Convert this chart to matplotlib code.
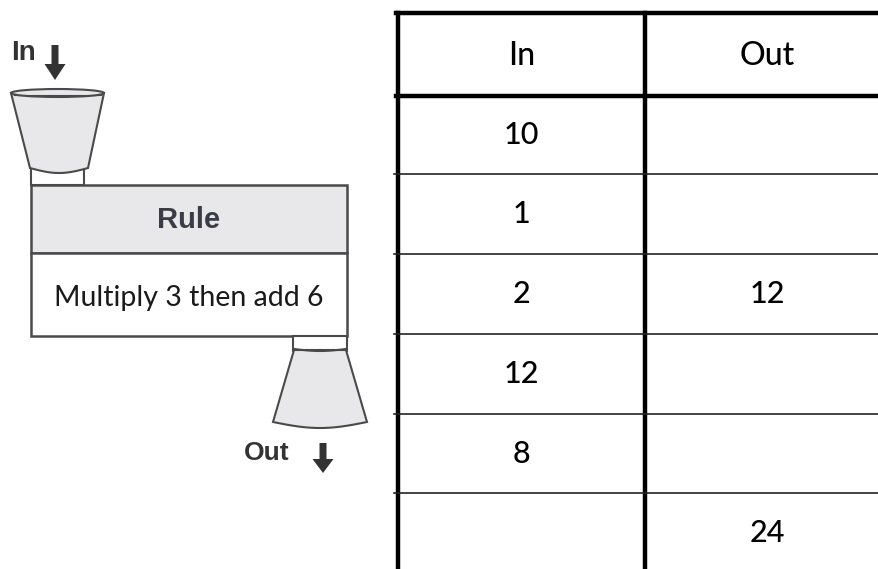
import matplotlib.pyplot as plt
from matplotlib.patches import Polygon, Rectangle, Ellipse, FancyArrow
import numpy as np

# table content
headers = ["In", "Out"]
in_values = ["10", "1", "2", "12", "8", ""]
out_values = ["", "", "12", "", "", "24"]
rule_title = "Rule"
rule_text = "Multiply 3 then add 6"

fig = plt.figure(figsize=(8.79, 5.69), dpi=100)
ax = fig.add_axes([0, 0, 1, 1])
ax.set_xlim(0, 879)
ax.set_ylim(569, 0)
ax.axis("off")

edge = "#4a4a4a"
fill = "#e8e8ea"
tfont = "Lato"

# ---- machine on the left ----
# top funnel
ax.add_patch(Rectangle((31, 168), 53, 17, facecolor="white", edgecolor=edge, lw=1.5))
xs = np.linspace(30, 88, 30)
sag = 168 + 5 * np.sin(np.pi * (xs - 30) / 58)
cone = [(11, 93)] + list(zip(xs, sag)) + [(104, 93)]
ax.add_patch(Polygon(cone[::-1], closed=True, facecolor=fill, edgecolor=edge, lw=1.5))
ax.add_patch(Ellipse((57.5, 93), 93, 8, facecolor=fill, edgecolor=edge, lw=1.5))
ax.plot([14, 101], [95, 95], color=edge, lw=0.8)
ax.text(11, 53, "In", fontsize=20, fontweight="bold", family="Liberation Sans",
        color="#333333", ha="left", va="center")
ax.add_patch(FancyArrow(55, 45, 0, 19, width=7, head_width=21, head_length=16,
                        length_includes_head=False, color="#333333", lw=0))

# rule box
ax.add_patch(Rectangle((31, 185), 316, 68, facecolor=fill, edgecolor=edge, lw=1.8))
ax.add_patch(Rectangle((31, 253), 316, 83, facecolor="white", edgecolor=edge, lw=1.8))
ax.text(189, 220, rule_title, fontsize=21, fontweight="bold", family="Liberation Sans",
        color="#3a3d45", ha="center", va="center")
ax.text(189, 298, rule_text, fontsize=20.5, family=tfont, color="#1a1a1a",
        ha="center", va="center")

# bottom funnel
ax.add_patch(Rectangle((293, 336), 54, 15, facecolor="white", edgecolor=edge, lw=1.5))
xs2 = np.linspace(273, 367, 30)
sag2 = 422 + 6 * np.sin(np.pi * (xs2 - 273) / 94)
cone2 = [(294, 350), (346, 350)] + list(zip(xs2, sag2))[::-1]
ax.add_patch(Polygon(cone2, closed=True, facecolor=fill, edgecolor=edge, lw=1.5))
xs3 = np.linspace(294, 346, 20)
ax.plot(xs3, 349 + 2 * np.sin(np.pi * (xs3 - 294) / 52), color=edge, lw=1.5)
ax.text(244, 453, "Out", fontsize=19, fontweight="bold", family="Liberation Sans",
        color="#333333", ha="left", va="center")
ax.add_patch(FancyArrow(323, 443, 0, 16, width=7, head_width=21, head_length=14,
                        length_includes_head=False, color="#333333", lw=0))

# ---- table on the right ----
x_left, x_mid, x_right = 398, 645, 892
row_edges = [13, 96, 174, 254, 334, 414, 493, 580]

ax.plot([x_left, x_left], [row_edges[0], row_edges[-1]], color="black", lw=3.2)
ax.plot([x_mid, x_mid], [row_edges[0], row_edges[-1]], color="black", lw=3.2)
ax.plot([x_left - 2, x_right], [row_edges[0], row_edges[0]], color="black", lw=3.2)
ax.plot([x_left - 2, x_right], [row_edges[1], row_edges[1]], color="black", lw=3.2)
for y in row_edges[2:-1]:
    ax.plot([x_left - 4, x_right], [y, y], color="#222222", lw=1.2)

cx_in = (x_left + x_mid) / 2
cx_out = 767
ax.text(cx_in, (row_edges[0] + row_edges[1]) / 2 + 1, headers[0], fontsize=23,
        family=tfont, fontweight="medium", ha="center", va="center", color="black")
ax.text(cx_out, (row_edges[0] + row_edges[1]) / 2 + 1, headers[1], fontsize=23,
        family=tfont, fontweight="medium", ha="center", va="center", color="black")
for i, (a, b) in enumerate(zip(in_values, out_values)):
    top = row_edges[i + 1]
    bot = row_edges[i + 2] if i < len(in_values) - 1 else 572
    yc = (top + bot) / 2
    ax.text(cx_in, yc, a, fontsize=22, family=tfont, fontweight="medium",
            ha="center", va="center")
    ax.text(cx_out, yc, b, fontsize=22, family=tfont, fontweight="medium",
            ha="center", va="center")

fig.savefig("out.png", dpi=100)
